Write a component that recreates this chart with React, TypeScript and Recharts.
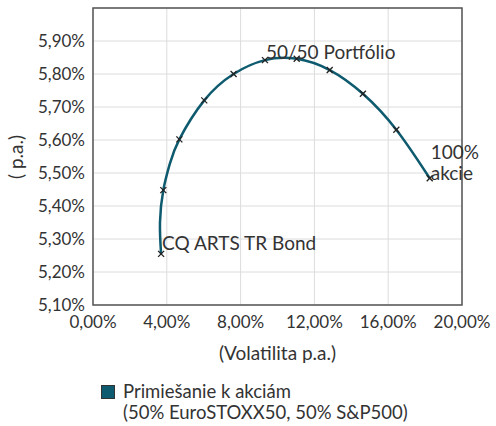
import React from 'react';
import {
  ComposedChart,
  Line,
  Scatter,
  XAxis,
  YAxis,
  CartesianGrid,
  ReferenceArea,
  LabelList,
  Label,
} from 'recharts';

// mixes 0%..100% equities, step 10%
const markerVol = [3.69, 3.81, 4.68, 6.03, 7.62, 9.32, 11.04, 12.83, 14.63, 16.44, 18.25];
const markerRet = [5.255, 5.448, 5.602, 5.72, 5.8, 5.842, 5.846, 5.812, 5.74, 5.631, 5.484];
const markerLabels = ['CQ ARTS TR Bond', '', '', '', '', '50/50 Portfólio', '', '', '', '', '100%|akcie'];

// frontier curve (a bit denser at the bottom bend)
const curveVol = [3.69, 3.63, 3.81, 4.17, 4.68, 6.03, 7.62, 9.32, 11.04, 12.83, 14.63, 16.44, 18.25];
const curveRet = [5.255, 5.35, 5.448, 5.529, 5.602, 5.72, 5.8, 5.842, 5.846, 5.812, 5.74, 5.631, 5.484];

const xTicks = [0, 4, 8, 12, 16, 20];
const yTicks = [5.1, 5.2, 5.3, 5.4, 5.5, 5.6, 5.7, 5.8, 5.9];

const LINE_COLOR = '#0e5a6e';
const TEXT_COLOR = '#333333';
const FONT = 'Lato, "Open Sans", sans-serif';

const markers = markerVol.map((v, i) => ({ vol: v, ret: markerRet[i], label: markerLabels[i] }));
const curve = curveVol.map((v, i) => ({ vol: v, ret: curveRet[i] }));

const fmt = (v: number) => `${v.toFixed(2).replace('.', ',')}%`;

const Cross = (props: any) => {
  const { cx, cy } = props;
  const s = 3;
  return (
    <g stroke="#222" strokeWidth={1.3}>
      <line x1={cx - s} y1={cy - s} x2={cx + s} y2={cy + s} />
      <line x1={cx - s} y1={cy + s} x2={cx + s} y2={cy - s} />
    </g>
  );
};

const PointLabel = (props: any) => {
  const { value } = props;
  if (!value) return null;
  // label box is the symbol's bounding box, go back to its centre
  const x = props.x + (props.width || 0) / 2;
  const y = props.y + (props.height || 0) / 2;
  const style = { fontFamily: FONT, fontSize: 19, fill: TEXT_COLOR };
  if (value.includes('|')) {
    const [a, b] = value.split('|');
    return (
      <g>
        <text x={x + 1} y={y - 27} dominantBaseline="central" style={style}>{a}</text>
        <text x={x + 1} y={y - 6} dominantBaseline="central" style={style}>{b}</text>
      </g>
    );
  }
  const dy = value.startsWith('CQ') ? -11 : -9;
  return (
    <text x={x + 1} y={y + dy} dominantBaseline="central" style={style}>
      {value}
    </text>
  );
};

export default function App() {
  const tick = { fontFamily: FONT, fontSize: 17, fill: TEXT_COLOR };
  return (
    <div style={{ position: 'absolute', left: 0, top: 0, width: 496, height: 426, background: '#fff' }}>
      <ComposedChart width={496} height={370} margin={{ top: 8, right: 34, left: 8, bottom: 10 }}>
        <CartesianGrid stroke="#dcdcdc" strokeWidth={1} />
        <XAxis
          type="number"
          dataKey="vol"
          domain={[0, 20]}
          ticks={xTicks}
          tickFormatter={fmt}
          tick={tick}
          tickLine={false}
          axisLine={false}
          tickMargin={5}
          height={55}
          interval={0}
        >
          <Label
            value="(Volatilita p.a.)"
            position="insideBottom"
            offset={0}
            style={{ fontFamily: FONT, fontSize: 19, fill: TEXT_COLOR }}
          />
        </XAxis>
        <YAxis
          type="number"
          dataKey="ret"
          domain={[5.1, 6.0]}
          ticks={yTicks}
          tickFormatter={fmt}
          tick={tick}
          tickLine={false}
          axisLine={false}
          width={85}
          interval={0}
        >
          <Label
            content={() => (
              <text
                x={15}
                y={157}
                transform="rotate(-90 15 157)"
                textAnchor="middle"
                dominantBaseline="central"
                style={{ fontFamily: FONT, fontSize: 19, fill: TEXT_COLOR }}
              >
                ( p.a.)
              </text>
            )}
          />
        </YAxis>
        <ReferenceArea x1={0} x2={20} y1={5.1} y2={6.0} fill="none" stroke="#555" strokeWidth={1.5} fillOpacity={0} />
        <Line
          data={curve}
          dataKey="ret"
          type="natural"
          stroke={LINE_COLOR}
          strokeWidth={2.5}
          dot={false}
          activeDot={false}
          isAnimationActive={false}
        />
        <Scatter data={markers} dataKey="ret" shape={<Cross />} isAnimationActive={false}>
          <LabelList dataKey="label" content={<PointLabel />} />
        </Scatter>
      </ComposedChart>
      <div
        style={{
          position: 'absolute',
          left: 101,
          top: 381,
          fontFamily: FONT,
          fontSize: 18.5,
          color: TEXT_COLOR,
          lineHeight: '21px',
        }}
      >
        <div style={{ display: 'flex', alignItems: 'center' }}>
          <span
            style={{
              display: 'inline-block',
              width: 12,
              height: 12,
              background: LINE_COLOR,
              border: '1px solid #333',
              marginRight: 8,
            }}
          />
          <span>Primiešanie k akciám</span>
        </div>
        <div style={{ paddingLeft: 22 }}>(50% EuroSTOXX50, 50% S&amp;P500)</div>
      </div>
    </div>
  );
}
